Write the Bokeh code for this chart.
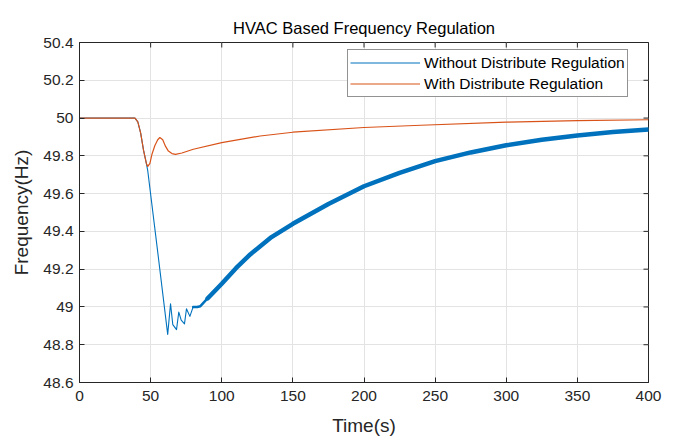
import math
from bokeh.plotting import figure
from bokeh.models import Range1d, Legend, LegendItem, FixedTicker
from bokeh.embed import file_html
from bokeh.resources import INLINE

# Data
t_without = [0, 39, 41, 43, 45, 47, 48, 55, 62, 64, 65.6, 68.2, 69.8, 71.5, 73.8, 75.2, 77.6, 79.9, 82.7]
f_without = [50.0, 50.0, 49.98, 49.92, 49.83, 49.76, 49.72, 49.29, 48.855, 49.017, 48.906, 48.88, 48.973,
             48.93, 48.91, 48.99, 48.95, 49.00, 49.0]
t_without_mid = [79.9, 82.7, 85, 90]
f_without_mid = [49.00, 49.0, 49.004, 49.045]
t_without_tail = [90, 100, 110, 120, 135, 150, 175, 200, 225, 250, 275, 300, 325, 350, 375, 400]
f_without_tail = [49.045, 49.123, 49.205, 49.278, 49.37, 49.44, 49.545, 49.639, 49.71, 49.772, 49.818,
                  49.856, 49.885, 49.908, 49.926, 49.94]

t_with = [0, 39, 41, 43, 45, 47, 48, 49.5, 51, 53, 55, 56.5, 58.5, 60.5, 62.5, 65, 67.5, 72, 80, 100,
          127, 150, 200, 240, 300, 350, 400]
f_with = [50.0, 50.0, 49.98, 49.92, 49.83, 49.76, 49.744, 49.76, 49.81, 49.855, 49.885, 49.897, 49.885,
          49.85, 49.825, 49.812, 49.808, 49.815, 49.835, 49.87, 49.905, 49.925, 49.95, 49.962, 49.978,
          49.986, 49.991]

x_ticks = [0, 50, 100, 150, 200, 250, 300, 350, 400]
y_ticks = [48.6, 48.8, 49.0, 49.2, 49.4, 49.6, 49.8, 50.0, 50.2, 50.4]
y_tick_labels = {48.6: "48.6", 48.8: "48.8", 49.0: "49", 49.2: "49.2", 49.4: "49.4", 49.6: "49.6",
                 49.8: "49.8", 50.0: "50", 50.2: "50.2", 50.4: "50.4"}

title_text = "HVAC Based Frequency Regulation"
series_names = ["Without Distribute Regulation", "With Distribute Regulation"]
blue = "#0072BD"
orange = "#D95319"
FONT = "Liberation Sans"
TXT = "#262626"

X0, X1 = 0, 400
Y0, Y1 = 48.6, 50.4

p = figure(width=678, height=445, output_backend="svg", toolbar_location=None,
           x_range=Range1d(X0, X1), y_range=Range1d(Y0, Y1),
           min_border_left=79, min_border_right=20, min_border_top=42, min_border_bottom=10,
           frame_width=569, frame_height=340)

p.title.text = title_text
p.title.align = "center"
p.title.text_font = FONT
p.title.text_font_size = "16.5px"
p.title.text_font_style = "normal"
p.title.text_color = "#000000"
p.title.standoff = 12

l1 = p.line(t_without, f_without, line_color=blue, line_width=1.1, line_join="round")
p.line(t_without_mid, f_without_mid, line_color=blue, line_width=2.5, line_join="round", line_cap="round")
p.line(t_without_tail, f_without_tail, line_color=blue, line_width=4.5, line_join="round", line_cap="round")
l2 = p.line(t_with, f_with, line_color=orange, line_width=1.2, line_join="round")

for ax in [p.xaxis[0], p.yaxis[0]]:
    ax.major_tick_in = 5
    ax.major_tick_out = 0
    ax.minor_tick_in = 0
    ax.minor_tick_out = 0
    ax.axis_line_color = TXT
    ax.major_tick_line_color = TXT
    ax.major_label_text_font = FONT
    ax.major_label_text_font_size = "15.5px"
    ax.major_label_text_color = TXT
    ax.axis_label_text_font = FONT
    ax.axis_label_text_font_size = "19px"
    ax.axis_label_text_font_style = "normal"
    ax.axis_label_text_color = TXT

p.xaxis[0].ticker = FixedTicker(ticks=x_ticks)
p.yaxis[0].ticker = FixedTicker(ticks=y_ticks)
p.yaxis[0].major_label_overrides = y_tick_labels
p.xaxis[0].axis_label = "Time(s)"
p.yaxis[0].axis_label = "Frequency(Hz)"
p.xaxis[0].major_label_standoff = 8
p.yaxis[0].major_label_standoff = 6
p.xaxis[0].axis_label_standoff = 11
p.yaxis[0].axis_label_standoff = 8

# box ticks on top and right (inward, clipped to the frame)
p.scatter(x_ticks, [Y1] * len(x_ticks), marker="dash", angle=math.pi / 2, size=10,
          line_color=TXT, line_width=1)
p.scatter([X1] * len(y_ticks), y_ticks, marker="dash", size=10, line_color=TXT, line_width=1)

p.xgrid.ticker = FixedTicker(ticks=x_ticks)
p.ygrid.ticker = FixedTicker(ticks=y_ticks)
p.grid.grid_line_color = "#e3e3e3"
p.grid.grid_line_width = 1
p.outline_line_color = TXT
p.background_fill_color = "white"
p.border_fill_color = "white"

legend = Legend(items=[LegendItem(label=series_names[0], renderers=[l1]),
                       LegendItem(label=series_names[1], renderers=[l2])],
                location=(268, 285))
legend.label_text_font = FONT
legend.label_text_font_size = "15.5px"
legend.label_text_color = "#000000"
legend.glyph_width = 70
legend.glyph_height = 21
legend.label_height = 21
legend.spacing = 0
legend.padding = 2
legend.margin = 0
legend.label_standoff = 4
legend.border_line_color = TXT
legend.border_line_width = 1
legend.background_fill_alpha = 1
p.add_layout(legend, "center")

open("out.html", "w").write(file_html(p, INLINE))
